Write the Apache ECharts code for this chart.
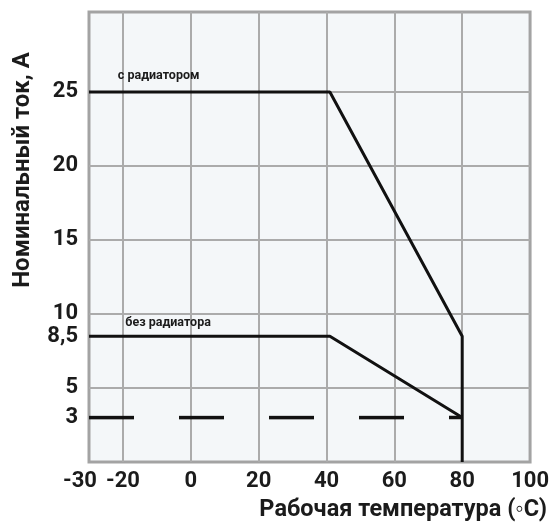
<!DOCTYPE html>
<html>
<head>
<meta charset="utf-8">
<script src="https://cdn.jsdelivr.net/npm/echarts@6/dist/echarts.min.js"></script>
<style>
  html, body { margin: 0; padding: 0; background: #ffffff; }
  #chart { width: 552px; height: 526px; }
</style>
</head>
<body>
<div id="chart"></div>
<script>
// Derating curves: rated current vs. operating temperature
const withRadiatorTemp = [-30, 41, 80, 80];
const withRadiatorCurrent = [25, 25, 8.5, 0];
const noRadiatorTemp = [-30, 41, 80];
const noRadiatorCurrent = [8.5, 8.5, 3];
const minCurrentTemp = [-30, 80];
const minCurrentLevel = [3, 3];

const xTickLabels = [-30, -20, 0, 20, 40, 60, 80, 100];
const xGridValues = [-20, 0, 20, 40, 60, 80];
const yTickLabels = [3, 5, 8.5, 10, 15, 20, 25];
const yGridValues = [5, 10, 15, 20, 25];

const withRadiatorName = 'с радиатором';
const noRadiatorName = 'без радиатора';
const yAxisTitle = 'Номинальный ток, А';
const xAxisTitle = 'Рабочая температура (◦C)';

function pairs(xs, ys) {
  return xs.map((x, i) => [x, ys[i]]);
}

const FONT = 'Roboto, "Noto Sans", sans-serif';
const INK = '#1b1b1b';

const tickFont = { fontFamily: FONT, fontWeight: 'bold', fontSize: 22, color: INK };

const chart = echarts.init(document.getElementById('chart'), null, { renderer: 'canvas' });

// Curve captions are anchored in data space, left edge at the anchor
const curveLabel = (text, coord) => ({
  symbol: 'circle',
  symbolSize: 0,
  silent: true,
  data: [{
    coord: coord,
    label: {
      show: true,
      position: 'right',
      distance: 0,
      formatter: text,
      fontFamily: FONT,
      fontWeight: 'bold',
      fontSize: 12.5,
      color: INK
    }
  }]
});

chart.setOption({
  animation: false,
  backgroundColor: '#ffffff',
  grid: {
    left: 89, right: 20, top: 12, bottom: 64,
    show: true,
    backgroundColor: '#f4f7f9',
    borderColor: '#a3a3a3',
    borderWidth: 3
  },
  xAxis: {
    type: 'value',
    min: -30,
    max: 100,
    axisLine: { show: false },
    axisTick: { show: false, customValues: xGridValues },
    splitLine: { show: true, lineStyle: { color: '#ababab', width: 2 } },
    axisLabel: {
      customValues: xTickLabels,
      margin: 8,
      ...tickFont,
      formatter: v => (v === -30 ? '{shift|-30}' : String(v)),
      rich: { shift: { ...tickFont, padding: [0, 18, 0, 0] } }
    }
  },
  yAxis: {
    type: 'value',
    min: 0,
    max: 30.4,
    axisLine: { show: false },
    axisTick: { show: false, customValues: yGridValues },
    splitLine: { show: true, lineStyle: { color: '#ababab', width: 2 } },
    axisLabel: {
      customValues: yTickLabels,
      margin: 11,
      ...tickFont,
      formatter: v => String(v).replace('.', ',')
    }
  },
  graphic: [
    {
      type: 'text',
      x: 23, y: 170,
      rotation: Math.PI / 2,
      style: {
        text: yAxisTitle,
        fontFamily: FONT, fontWeight: 'bold', fontSize: 24,
        fill: INK, align: 'center', verticalAlign: 'middle'
      }
    },
    {
      type: 'text',
      x: 547, y: 510,
      style: {
        text: xAxisTitle,
        fontFamily: FONT, fontWeight: 'bold', fontSize: 23.5,
        fill: INK, align: 'right', verticalAlign: 'middle'
      }
    }
  ],
  series: [
    {
      name: withRadiatorName,
      type: 'line',
      data: pairs(withRadiatorTemp, withRadiatorCurrent),
      symbol: 'none',
      lineStyle: { color: '#111111', width: 3 },
      markPoint: curveLabel(withRadiatorName, [-21.5, 26.1])
    },
    {
      name: noRadiatorName,
      type: 'line',
      data: pairs(noRadiatorTemp, noRadiatorCurrent),
      symbol: 'none',
      lineStyle: { color: '#111111', width: 3 },
      markPoint: curveLabel(noRadiatorName, [-19.3, 9.4])
    },
    {
      name: 'min',
      type: 'line',
      data: pairs(minCurrentTemp, minCurrentLevel),
      symbol: 'none',
      lineStyle: { color: '#111111', width: 3.5, type: [45, 45] }
    }
  ]
});
</script>
</body>
</html>
